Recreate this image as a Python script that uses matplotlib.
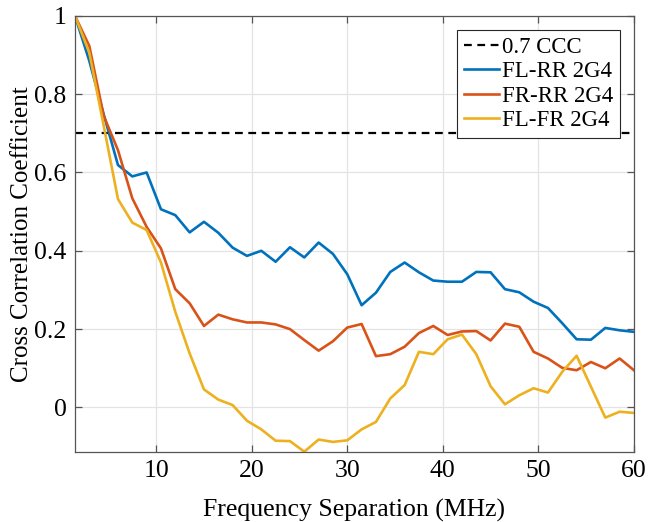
import numpy as np
import matplotlib.pyplot as plt

plt.rcParams['font.family'] = ['Liberation Serif', 'DejaVu Serif']
plt.rcParams['mathtext.fontset'] = 'stix'

# frequency separation, 1.5 MHz steps
freq = [1.5, 3.0, 4.5, 6.0, 7.5, 9.0, 10.5, 12.0, 13.5, 15.0,
        16.5, 18.0, 19.5, 21.0, 22.5, 24.0, 25.5, 27.0, 28.5, 30.0,
        31.5, 33.0, 34.5, 36.0, 37.5, 39.0, 40.5, 42.0, 43.5, 45.0,
        46.5, 48.0, 49.5, 51.0, 52.5, 54.0, 55.5, 57.0, 58.5, 60.0]

fl_rr = [1.0, 0.885, 0.749, 0.619, 0.590, 0.600, 0.506, 0.491, 0.447, 0.474,
         0.446, 0.408, 0.387, 0.400, 0.372, 0.409, 0.383, 0.421, 0.392, 0.340,
         0.261, 0.293, 0.346, 0.370, 0.345, 0.324, 0.321, 0.321, 0.346, 0.345,
         0.302, 0.294, 0.270, 0.254, 0.215, 0.174, 0.173, 0.203, 0.197, 0.193]

fr_rr = [1.0, 0.923, 0.745, 0.657, 0.534, 0.461, 0.406, 0.302, 0.266, 0.208,
         0.237, 0.225, 0.217, 0.217, 0.212, 0.200, 0.172, 0.145, 0.169, 0.204,
         0.213, 0.131, 0.136, 0.155, 0.190, 0.208, 0.185, 0.194, 0.195, 0.171,
         0.214, 0.206, 0.142, 0.125, 0.101, 0.095, 0.116, 0.100, 0.125, 0.095]

fl_fr = [1.0, 0.906, 0.720, 0.532, 0.472, 0.453, 0.370, 0.244, 0.138, 0.046,
         0.020, 0.006, -0.034, -0.056, -0.085, -0.086, -0.113, -0.082, -0.088, -0.084,
         -0.056, -0.037, 0.023, 0.057, 0.142, 0.136, 0.174, 0.186, 0.136, 0.054,
         0.008, 0.031, 0.049, 0.038, 0.091, 0.132, 0.053, -0.026, -0.011, -0.014]

ccc = 0.7

fig = plt.figure(figsize=(6.48, 5.22), dpi=100)
ax = fig.add_axes([0.1157, 0.1347, 0.8626, 0.835])

ax.axhline(ccc, color='k', ls=(0, (3.5, 2.5)), lw=1.6, label='0.7 CCC')
ax.plot(freq, fl_rr, color='#0072BD', lw=1.9, label='FL-RR 2G4')
ax.plot(freq, fr_rr, color='#D95319', lw=1.9, label='FR-RR 2G4')
ax.plot(freq, fl_fr, color='#EDB120', lw=1.9, label='FL-FR 2G4')

ax.set_xlim(freq[0], freq[-1])
ax.set_ylim(min(fl_fr), 1)
ax.set_xticks([10, 20, 30, 40, 50, 60])
ax.set_yticks([0, 0.2, 0.4, 0.6, 0.8, 1])
ax.set_yticklabels(['0', '0.2', '0.4', '0.6', '0.8', '1'])

ax.grid(True, color='#e3e3e3', lw=0.9)
ax.set_axisbelow(True)
for s in ax.spines.values():
    s.set_color('#555555')
    s.set_linewidth(0.9)
ax.tick_params(direction='in', length=5, width=0.9, color='#555555',
               labelsize=18.5, top=True, right=True, pad=6)

ax.set_xlabel('Frequency Separation (MHz)', fontsize=18.5, labelpad=12)
ax.set_ylabel('Cross Correlation Coefficient', fontsize=18, labelpad=1)

leg = ax.legend(loc='upper right', bbox_to_anchor=(0.987, 0.983), fontsize=16.5,
                frameon=True, fancybox=False, edgecolor='#262626',
                handlelength=1.55, handletextpad=0.1, borderpad=0.3,
                labelspacing=0.15, borderaxespad=0.3, framealpha=1)
leg.get_frame().set_linewidth(0.8)

fig.savefig('out.png', dpi=100)
